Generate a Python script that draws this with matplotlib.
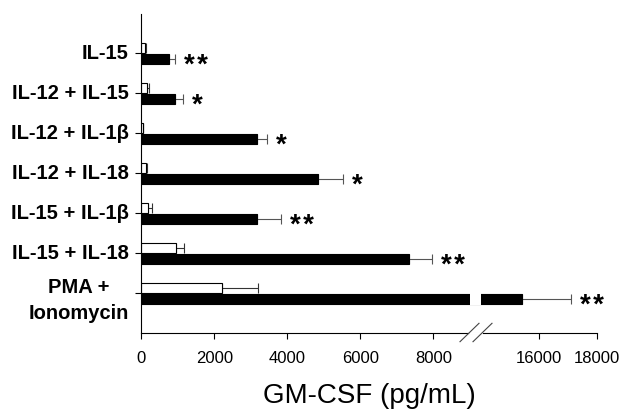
import numpy as np
import matplotlib
matplotlib.use('Agg')
import matplotlib.pyplot as plt
from matplotlib.transforms import blended_transform_factory

plt.rcParams['font.family'] = ['Liberation Sans', 'DejaVu Sans']

# 数据
cats = ['IL-15', 'IL-12 + IL-15', 'IL-12 + IL-1β', 'IL-12 + IL-18',
        'IL-15 + IL-1β', 'IL-15 + IL-18', 'PMA +\nIonomycin']
white_vals = [100, 150, 40, 130, 190, 940, 2220]
white_err = [20, 60, 20, 30, 95, 230, 980]
black_vals = [760, 925, 3160, 4850, 3180, 7340, 15420]
black_err = [165, 225, 290, 685, 640, 625, 1690]
stars = ['**', '*', '*', '*', '**', '**', '**']
xticks = [0, 2000, 4000, 6000, 8000, 16000, 18000]

# 断轴：9000~14000 压缩
brk_lo, brk_hi = 9000, 14000
sv = [-1e5, 0, brk_lo, brk_hi, 18000, 1e5]
sp = [-3650, 0, 328.5, 340.0, 455.4, 455.4 + 82000 * 0.02885]

def fwd(v):
    return np.interp(v, sv, sp)

def inv(p):
    return np.interp(p, sp, sv)

fig = plt.figure(figsize=(6.23, 4.09), dpi=100)
ax = fig.add_axes([141.3 / 623, 75.7 / 409, 455.4 / 623, 319.3 / 409])
ax.set_xscale('function', functions=(fwd, inv))

y = np.arange(len(cats))
h = 0.25
ax.barh(y - 0.13, white_vals, height=h, color='white', edgecolor='black', linewidth=0.8, zorder=2)
ax.barh(y + 0.14, black_vals, height=h, color='black', edgecolor='black', linewidth=0.8, zorder=2)
ax.errorbar(white_vals, y - 0.13, xerr=[np.zeros(len(cats)), white_err], fmt='none',
            ecolor='#333333', elinewidth=0.8, capsize=3.5, capthick=0.8, zorder=1)
ax.errorbar(black_vals, y + 0.14, xerr=[np.zeros(len(cats)), black_err], fmt='none',
            ecolor='#555555', elinewidth=0.8, capsize=3.5, capthick=0.8, zorder=1)

# 长条中间的断口
ax.barh(y[-1] + 0.14, brk_hi - brk_lo, left=brk_lo, height=h + 0.06, color='white', zorder=3)

# 星号
for i in range(len(cats)):
    ax.annotate(stars[i].replace('**', '*\u200a*'), (black_vals[i] + black_err[i], y[i] + 0.14),
                xytext=(6.5, -10), textcoords='offset points', fontsize=20, fontweight='bold',
                va='baseline', ha='left')

ax.set_ylim(7.0, -0.975)
ax.set_xlim(0, 18000)
ax.set_yticks(y)
ax.set_yticklabels([])
ax.tick_params(axis='y', length=4, width=0.8)
# y 标签：右对齐，多行居中
for i in range(len(cats)):
    dy = -5 if '\n' in cats[i] else 0
    ax.annotate(cats[i], (0, y[i]), xycoords=('axes fraction', 'data'), xytext=(-9, dy),
                textcoords='offset points', fontsize=14.5, fontweight='bold', ha='right',
                va='center', multialignment='center', linespacing=1.45)

ax.set_xticks(xticks)
ax.set_xticklabels([str(t) for t in xticks], fontsize=12)
ax.tick_params(axis='x', length=4, width=0.8, pad=9)
ax.minorticks_off()
ax.spines['top'].set_visible(False)
ax.spines['right'].set_visible(False)
ax.spines['left'].set_linewidth(0.8)
ax.spines['bottom'].set_linewidth(0.8)
ax.set_xlabel('GM-CSF (pg/mL)', fontsize=20, labelpad=12)

# 轴上的断口标记
tr = blended_transform_factory(ax.transData, ax.transAxes)
ax.plot([brk_lo, brk_hi], [0, 0], color='white', lw=2, transform=tr, clip_on=False, zorder=5)
for x0 in (460, 473):
    fig.lines.append(plt.Line2D([x0 / 623, (x0 + 19) / 623], [(409 - 341.7) / 409, (409 - 323.3) / 409],
                                color='#444444', lw=0.8, transform=fig.transFigure))

fig.savefig('out.png', dpi=100)
